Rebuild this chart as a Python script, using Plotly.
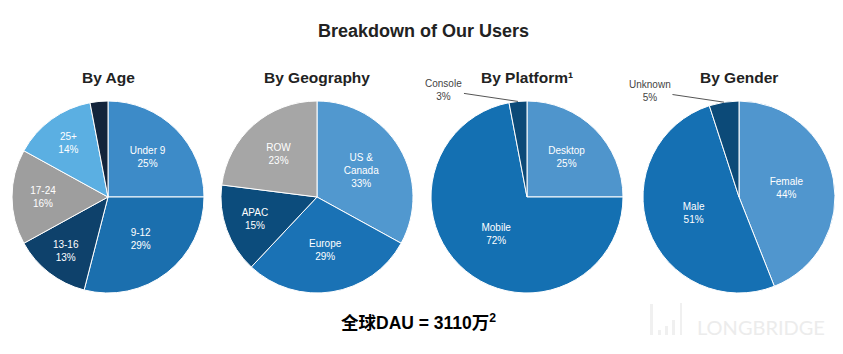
import math
import plotly.graph_objects as go

W, H = 843, 354

# ---- data ----
age_labels = ["Under 9", "9-12", "13-16", "17-24", "25+", ""]
age_values = [25, 29, 13, 16, 14, 3]
age_colors = ["#3d8bc8", "#1b6fae", "#0e416b", "#9e9e9e", "#5bafe2", "#13243b"]

geo_labels = ["US &<br>Canada", "Europe", "APAC", "ROW"]
geo_values = [33, 29, 15, 23]
geo_colors = ["#5198cf", "#1a72b5", "#0c4c7c", "#a6a6a6"]

plat_labels = ["Desktop", "Mobile", "Console"]
plat_values = [25, 72, 3]
plat_colors = ["#4f95cc", "#1470b2", "#0c4a78"]

gen_labels = ["Female", "Male", "Unknown"]
gen_values = [44, 51, 5]
gen_colors = ["#5096ce", "#1570b3", "#0c4a78"]

subtitles = ["By Age", "By Geography", "By Platform¹", "By Gender"]
main_title = "Breakdown of Our Users"
footer = "全球DAU = 3110万<sup>2</sup>"

# ---- layout helpers ----
CY, R = 197, 96
CENTERS = [108, 317, 527, 739]


def dom(cx):
    return dict(x=[(cx - R) / W, (cx + R) / W], y=[1 - (CY + R) / H, 1 - (CY - R) / H])


FONT = "Liberation Sans, Arial, Helvetica, sans-serif"

fig = go.Figure()

groups = [
    (age_labels, age_values, age_colors, []),
    (geo_labels, geo_values, geo_colors, []),
    (plat_labels, plat_values, plat_colors, [2]),
    (gen_labels, gen_values, gen_colors, [2]),
]

outside_notes = []
for gi, (labs, vals, cols, outside) in enumerate(groups):
    texts, positions = [], []
    for i, (l, v) in enumerate(zip(labs, vals)):
        if l == "" or i in outside:
            texts.append("")
            positions.append("none")
        else:
            texts.append(f"{l}<br>{v}%")
            positions.append("inside")
    fig.add_trace(go.Pie(
        labels=[l if l else f"other{gi}" for l in labs],
        values=vals,
        text=texts,
        textinfo="text",
        textposition=positions,
        insidetextorientation="horizontal",
        insidetextfont=dict(family=FONT, size=10, color="white"),
        marker=dict(colors=cols, line=dict(color="white", width=1)),
        sort=False,
        direction="clockwise",
        rotation=0,
        domain=dom(CENTERS[gi]),
        showlegend=False,
        hoverinfo="label+value",
    ))
    # external labels with leader lines, anchored at slice mid-angle
    total = sum(vals)
    cum = 0
    for i, v in enumerate(vals):
        if i in outside:
            mid = (cum + v / 2) / total * 2 * math.pi
            px = CENTERS[gi] + R * math.sin(mid)
            py = CY - R * math.cos(mid)
            outside_notes.append((labs[i], v, px, py))
        cum += v


def ann(x, y, text, size, color, family=FONT):
    return dict(x=x / W, y=1 - y / H, xref="paper", yref="paper",
                xanchor="center", yanchor="middle",
                text=text, showarrow=False,
                font=dict(family=family, size=size, color=color))


annotations = []
for (lab, v, px, py) in outside_notes:
    annotations.append(dict(
        x=px / W, y=1 - py / H, xref="paper", yref="paper",
        text=f"{lab}<br>{v}%", showarrow=True, arrowhead=0, arrowwidth=1,
        arrowcolor="#555555", ax=-74, ay=-11,
        font=dict(family=FONT, size=10, color="#444444"),
        align="center",
    ))

annotations.append(ann(423, 31, f"<b>{main_title}</b>", 18, "#222222"))
for cx, st in zip(CENTERS, subtitles):
    annotations.append(ann(cx, 78, f"<b>{st}</b>", 15.5, "#222222"))
annotations.append(ann(418, 322, f"<b>{footer}</b>", 17.5, "#000000",
                       "Liberation Sans, Noto Sans CJK SC, sans-serif"))
annotations.append(ann(761, 327, "LONGBRIDGE", 20, "#ececec", "Lato, Open Sans, sans-serif"))

shapes = []
for (x0, x1, y0, y1) in [(650, 653, 304, 335), (658, 661, 330, 335), (665, 668, 326, 335),
                         (672, 675, 320, 335), (680, 682, 303, 335)]:
    shapes.append(dict(type="rect", xref="paper", yref="paper",
                       x0=x0 / W, x1=x1 / W, y0=1 - y1 / H, y1=1 - y0 / H,
                       fillcolor="#f0f0f0", line=dict(width=0)))

fig.update_layout(
    width=W, height=H,
    margin=dict(l=0, r=0, t=0, b=0),
    paper_bgcolor="white",
    plot_bgcolor="white",
    annotations=annotations,
    shapes=shapes,
)

fig.write_html("out.html")
